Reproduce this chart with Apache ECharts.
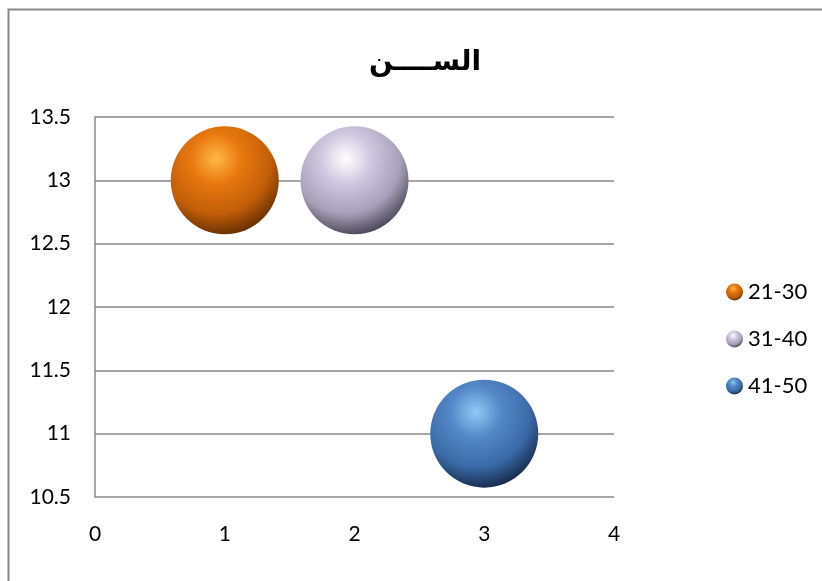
<!DOCTYPE html>
<html><head><meta charset="utf-8">
<script src="https://cdn.jsdelivr.net/npm/echarts@6/dist/echarts.min.js"></script>
<style>html,body{margin:0;padding:0;background:#fff}#c{width:822px;height:581px}</style>
</head><body><div id="c"></div>
<script>
const titleText = 'الســــن';
const seriesNames = ['21-30', '31-40', '41-50'];
const xValues = [1, 2, 3];
const yValues = [13, 13, 11];
const bubbleSizes = [1, 1, 1];
const xTicks = [0, 1, 2, 3, 4];
const yTicks = [10.5, 11, 11.5, 12, 12.5, 13, 13.5];

const palettes = [
  ['#ffb848', '#e8780f', '#c25e08', '#4a2000'],
  ['#ffffff', '#d0c8e0', '#a8a0b8', '#2e2a3a'],
  ['#90caf4', '#5588c8', '#3a6aa8', '#0a1830']
];
function sphere(p) {
  return {
    type: 'radial', x: 0.42, y: 0.3, r: 0.78,
    colorStops: [
      { offset: 0, color: p[0] },
      { offset: 0.3, color: p[1] },
      { offset: 0.65, color: p[2] },
      { offset: 1, color: p[3] }
    ]
  };
}
const chart = echarts.init(document.getElementById('c'));
const series = seriesNames.map((n, i) => ({
  name: n,
  type: 'scatter',
  data: [[xValues[i], yValues[i], bubbleSizes[i]]],
  symbolSize: d => 108 * d[2],
  itemStyle: { color: sphere(palettes[i]), opacity: 1 }
}));
chart.setOption({
  animation: false,
  title: {
    text: titleText, left: 420, top: 44, textAlign: 'center',
    textStyle: { fontFamily: 'DejaVu Sans', fontWeight: 'bold', fontSize: 28, color: '#000' }
  },
  legend: {
    orient: 'vertical', left: 721, top: 276, itemGap: 25,
    icon: 'circle', itemWidth: 17, itemHeight: 17,
    textStyle: { fontFamily: 'Lato', fontSize: 22, color: '#000' },
    data: seriesNames
  },
  graphic: [{
    type: 'rect', shape: { x: 8.5, y: 9.5, width: 900, height: 700 },
    style: { fill: 'none', stroke: '#888', lineWidth: 2 }, silent: true
  }],
  grid: { left: 95, right: 208, top: 117, bottom: 84 },
  xAxis: {
    type: 'value', min: xTicks[0], max: xTicks[xTicks.length - 1], interval: 1,
    axisLine: { show: false }, axisTick: { show: false }, splitLine: { show: false },
    axisLabel: { fontFamily: 'Lato', fontSize: 21, color: '#000', margin: 27 }
  },
  yAxis: {
    type: 'value', min: yTicks[0], max: yTicks[yTicks.length - 1], interval: 0.5,
    axisLine: { show: true, lineStyle: { color: '#888', width: 1.5 } },
    axisTick: { show: false },
    splitLine: { show: true, lineStyle: { color: '#888', width: 1.5 } },
    axisLabel: { fontFamily: 'Lato', fontSize: 21, color: '#000', margin: 24 }
  },
  series: series
});
</script></body></html>
